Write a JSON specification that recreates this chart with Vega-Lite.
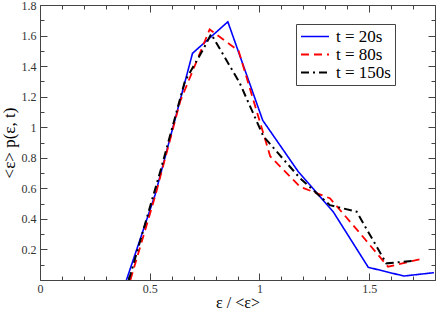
{
  "$schema": "https://vega.github.io/schema/vega-lite/v6.json",
  "width": 395,
  "height": 275,
  "autosize": {"type": "none"},
  "padding": {"left": 40, "top": 5, "right": 1, "bottom": 29},
  "background": "white",
  "config": {
    "view": {"stroke": "#444", "strokeWidth": 1},
    "font": "Liberation Serif",
    "axis": {"domain": false, "grid": false, "tickColor": "#444", "labelFont": "Liberation Serif", "titleFont": "Liberation Serif", "labelColor": "#333", "titleColor": "#000", "titleFontWeight": "normal"},
    "legend": {"labelFont": "Liberation Serif"}
  },
  "data": {
    "values": [
      {"x": 0.394, "y": 0.0, "series": "t = 20s"},
      {"x": 0.525, "y": 0.56, "series": "t = 20s"},
      {"x": 0.695, "y": 1.484, "series": "t = 20s"},
      {"x": 0.856, "y": 1.69, "series": "t = 20s"},
      {"x": 1.015, "y": 1.045, "series": "t = 20s"},
      {"x": 1.177, "y": 0.709, "series": "t = 20s"},
      {"x": 1.336, "y": 0.447, "series": "t = 20s"},
      {"x": 1.496, "y": 0.083, "series": "t = 20s"},
      {"x": 1.658, "y": 0.026, "series": "t = 20s"},
      {"x": 1.795, "y": 0.048, "series": "t = 20s"},
      {"x": 0.412, "y": 0.0, "series": "t  = 80s"},
      {"x": 0.525, "y": 0.55, "series": "t  = 80s"},
      {"x": 0.639, "y": 1.17, "series": "t  = 80s"},
      {"x": 0.773, "y": 1.64, "series": "t  = 80s"},
      {"x": 0.905, "y": 1.5, "series": "t  = 80s"},
      {"x": 1.049, "y": 0.81, "series": "t  = 80s"},
      {"x": 1.185, "y": 0.61, "series": "t  = 80s"},
      {"x": 1.321, "y": 0.535, "series": "t  = 80s"},
      {"x": 1.45, "y": 0.32, "series": "t  = 80s"},
      {"x": 1.586, "y": 0.087, "series": "t  = 80s"},
      {"x": 1.73, "y": 0.135, "series": "t  = 80s"},
      {"x": 0.405, "y": 0.0, "series": "t = 150s"},
      {"x": 0.55, "y": 0.72, "series": "t = 150s"},
      {"x": 0.66, "y": 1.3, "series": "t = 150s"},
      {"x": 0.74, "y": 1.5, "series": "t = 150s"},
      {"x": 0.78, "y": 1.61, "series": "t = 150s"},
      {"x": 0.91, "y": 1.29, "series": "t = 150s"},
      {"x": 1.018, "y": 0.94, "series": "t = 150s"},
      {"x": 1.185, "y": 0.666, "series": "t = 150s"},
      {"x": 1.321, "y": 0.49, "series": "t = 150s"},
      {"x": 1.443, "y": 0.447, "series": "t = 150s"},
      {"x": 1.578, "y": 0.109, "series": "t = 150s"},
      {"x": 1.708, "y": 0.126, "series": "t = 150s"}
    ]
  },
  "layer": [
    {
      "mark": {"type": "line", "clip": true},
      "encoding": {
        "x": {
          "field": "x", "type": "quantitative",
          "scale": {"domain": [0, 1.8], "nice": false, "zero": false},
          "axis": {
            "orient": "bottom",
            "title": "ε / <ε>",
            "titleFontSize": 16,
            "titlePadding": 0,
            "labelFontSize": 12,
            "values": [0, 0.1, 0.2, 0.3, 0.4, 0.5, 0.6, 0.7, 0.8, 0.9, 1, 1.1, 1.2, 1.3, 1.4, 1.5, 1.6, 1.7, 1.8],
            "labelExpr": "abs(datum.value*2 - round(datum.value*2)) < 0.001 && datum.value < 1.79 ? format(datum.value, '.1~f') : ''",
            "tickSize": {"condition": {"test": "abs(datum.value*2 - round(datum.value*2)) < 0.001", "value": -7}, "value": -4},
            "labelPadding": 10,
            "labelFlush": false
          }
        },
        "y": {
          "field": "y", "type": "quantitative",
          "scale": {"domain": [0, 1.8], "nice": false, "zero": false},
          "axis": {
            "orient": "left",
            "title": "<ε> p(ε, t)",
            "titleFontSize": 17,
            "titlePadding": 3,
            "labelFontSize": 12,
            "values": [0, 0.1, 0.2, 0.3, 0.4, 0.5, 0.6, 0.7, 0.8, 0.9, 1, 1.1, 1.2, 1.3, 1.4, 1.5, 1.6, 1.7, 1.8],
            "labelExpr": "abs(datum.value*5 - round(datum.value*5)) < 0.001 && datum.value > 0.05 ? format(datum.value, '.1~f') : ''",
            "tickSize": {"condition": {"test": "abs(datum.value*5 - round(datum.value*5)) < 0.001", "value": -7}, "value": -4},
            "labelPadding": 11,
            "labelFlush": false
          }
        },
        "color": {
          "field": "series", "type": "nominal",
          "scale": {"domain": ["t = 20s", "t  = 80s", "t = 150s"], "range": ["#0000ff", "#ff0000", "#000000"]},
          "legend": {
            "title": null,
            "orient": "none",
            "legendX": 256,
            "legendY": 19,
            "symbolType": "stroke",
            "symbolSize": 784,
            "symbolStrokeWidth": 2,
            "labelFont": "Liberation Serif",
            "labelFontSize": 17,
            "labelColor": "#000",
            "labelOffset": 6,
            "clipHeight": 17,
            "rowPadding": 0,
            "padding": 4,
            "strokeColor": "#444",
            "fillColor": "white"
          }
        },
        "strokeDash": {
          "field": "series", "type": "nominal",
          "scale": {"domain": ["t = 20s", "t  = 80s", "t = 150s"], "range": [[1, 0], [8, 5], [8, 4, 2, 4]]},
          "legend": {
            "title": null,
            "orient": "none",
            "legendX": 256,
            "legendY": 19
          }
        },
        "strokeWidth": {
          "field": "series", "type": "nominal",
          "scale": {"domain": ["t = 20s", "t  = 80s", "t = 150s"], "range": [1.6, 2, 2]},
          "legend": null
        }
      }
    },
    {
      "mark": {"type": "point", "opacity": 0},
      "encoding": {
        "x": {
          "field": "x", "type": "quantitative",
          "axis": {
            "orient": "top", "title": null, "labels": false,
            "values": [0, 0.1, 0.2, 0.3, 0.4, 0.5, 0.6, 0.7, 0.8, 0.9, 1, 1.1, 1.2, 1.3, 1.4, 1.5, 1.6, 1.7, 1.8],
            "tickSize": {"condition": {"test": "abs(datum.value*2 - round(datum.value*2)) < 0.001", "value": -7}, "value": -4}
          }
        },
        "y": {
          "field": "y", "type": "quantitative",
          "axis": {
            "orient": "right", "title": null, "labels": false,
            "values": [0, 0.1, 0.2, 0.3, 0.4, 0.5, 0.6, 0.7, 0.8, 0.9, 1, 1.1, 1.2, 1.3, 1.4, 1.5, 1.6, 1.7, 1.8],
            "tickSize": {"condition": {"test": "abs(datum.value*5 - round(datum.value*5)) < 0.001", "value": -7}, "value": -4}
          }
        }
      }
    }
  ],
  "resolve": {"axis": {"x": "independent", "y": "independent"}}
}
